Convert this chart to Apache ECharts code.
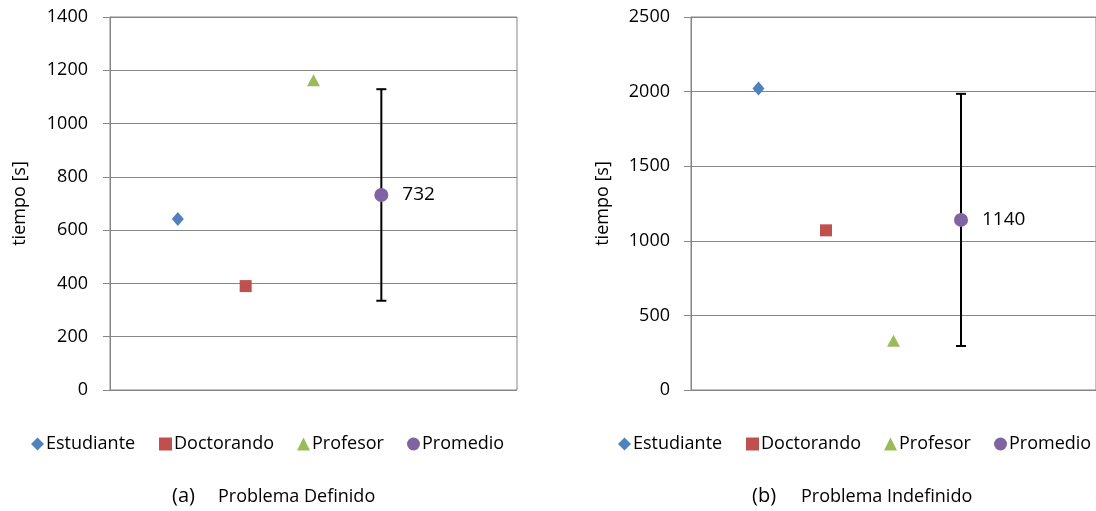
<!DOCTYPE html>
<html>
<head>
<meta charset="utf-8">
<script src="https://cdn.jsdelivr.net/npm/echarts@6/dist/echarts.min.js"></script>
<style>html,body{margin:0;padding:0;background:#fff;}#c{width:1096px;height:511px;}</style>
</head>
<body>
<div id="c"></div>
<script>
// Data
const seriesNames = ['Estudiante', 'Doctorando', 'Profesor', 'Promedio'];
const xPositions = [1, 2, 3, 4];
const valuesA = [642, 390, 1163, 732];
const valuesB = [2020, 1070, 330, 1140];
const errorA = [335, 1129];   // low, high of Promedio error bar (a)
const errorB = [295, 1985];   // low, high of Promedio error bar (b)
const yTicksA = {min: 0, max: 1400, interval: 200};
const yTicksB = {min: 0, max: 2500, interval: 500};
const captions = [['(a)', 'Problema Definido'], ['(b)', 'Problema Indefinido']];

const colors = ['#4F81BD', '#C0504D', '#9BBB59', '#8064A2'];
const symbols = ['diamond', 'rect', 'triangle', 'circle'];
const symbolSizes = [[12, 14], 12, [13, 12], 14];
const FONT = 'Open Sans';
const gridColor = '#868686';

const chart = echarts.init(document.getElementById('c'));

function yAxis(idx, ticks, gap, margin) {
  return {
    type: 'value', gridIndex: idx, min: ticks.min, max: ticks.max, interval: ticks.interval,
    name: 'tiempo [s]', nameLocation: 'middle', nameRotate: 90, nameGap: gap,
    nameTextStyle: {fontFamily: FONT, fontSize: 18, color: '#000'},
    axisLine: {show: true, lineStyle: {color: gridColor, width: 1}},
    axisTick: {show: true, length: 7, lineStyle: {color: gridColor}},
    axisLabel: {fontFamily: FONT, fontSize: 18, color: '#000', margin: margin, formatter: v => String(v)},
    splitLine: {show: true, lineStyle: {color: gridColor, width: 1}}
  };
}
function xAxis(idx) {
  return {type: 'value', gridIndex: idx, min: 0, max: 6, show: false};
}

const series = [];
[[valuesA, errorA, 0], [valuesB, errorB, 1]].forEach(([vals, err, gi]) => {
  seriesNames.forEach((name, i) => {
    series.push({
      type: 'scatter', name: name, xAxisIndex: gi, yAxisIndex: gi,
      symbol: symbols[i], symbolSize: symbolSizes[i],
      itemStyle: {color: colors[i], opacity: 1},
      data: [[xPositions[i], vals[i]]],
      z: 5,
      label: i === 3 ? {show: true, position: 'right', distance: 14, fontFamily: FONT, fontSize: 19, color: '#000',
        formatter: p => String(p.value[1])} : {show: false}
    });
  });
  series.push({
    type: 'custom', name: 'err' + gi, xAxisIndex: gi, yAxisIndex: gi, z: 3,
    data: [[xPositions[3], err[0], err[1]]],
    renderItem: function (params, api) {
      const lo = api.coord([api.value(0), api.value(1)]);
      const hi = api.coord([api.value(0), api.value(2)]);
      const w = 5;
      const st = {stroke: '#000', lineWidth: 2};
      return {type: 'group', children: [
        {type: 'line', shape: {x1: lo[0], y1: lo[1], x2: hi[0], y2: hi[1]}, style: st},
        {type: 'line', shape: {x1: lo[0] - w, y1: lo[1], x2: lo[0] + w, y2: lo[1]}, style: st},
        {type: 'line', shape: {x1: hi[0] - w, y1: hi[1], x2: hi[0] + w, y2: hi[1]}, style: st}
      ]};
    }
  });
});

// one legend component per item for precise placement
const legendLefts = [[26, 154, 292, 402], [613, 741, 879, 989]];
const legends = [];
legendLefts.forEach(row => row.forEach((l, i) => {
  legends.push({
    left: l, top: 430, itemWidth: 13, itemHeight: 13, itemGap: 0,
    data: [seriesNames[i]],
    textStyle: {fontFamily: FONT, fontSize: 18, color: '#000', padding: [0, 0, 0, -3]}
  });
}));

const option = {
  animation: false,
  backgroundColor: '#fff',
  grid: [
    {left: 110, top: 17, width: 407, height: 373, show: true, borderColor: gridColor, borderWidth: 1},
    {left: 691, top: 17, width: 408, height: 373, show: true, borderColor: gridColor, borderWidth: 1}
  ],
  xAxis: [xAxis(0), xAxis(1)],
  yAxis: [yAxis(0, yTicksA, 81, 22), yAxis(1, yTicksB, 79, 21)],
  legend: legends,
  graphic: [
    {type: 'text', x: 172, y: 496, style: {text: captions[0][0], font: '20px "Open Sans"', fill: '#000', verticalAlign: 'middle'}},
    {type: 'text', x: 218, y: 497, style: {text: captions[0][1], font: '18px "Open Sans"', fill: '#000', verticalAlign: 'middle'}},
    {type: 'text', x: 752, y: 496, style: {text: captions[1][0], font: '20px "Open Sans"', fill: '#000', verticalAlign: 'middle'}},
    {type: 'text', x: 801, y: 497, style: {text: captions[1][1], font: '18px "Open Sans"', fill: '#000', verticalAlign: 'middle'}}
  ],
  series: series
};
chart.setOption(option);
</script>
</body>
</html>
